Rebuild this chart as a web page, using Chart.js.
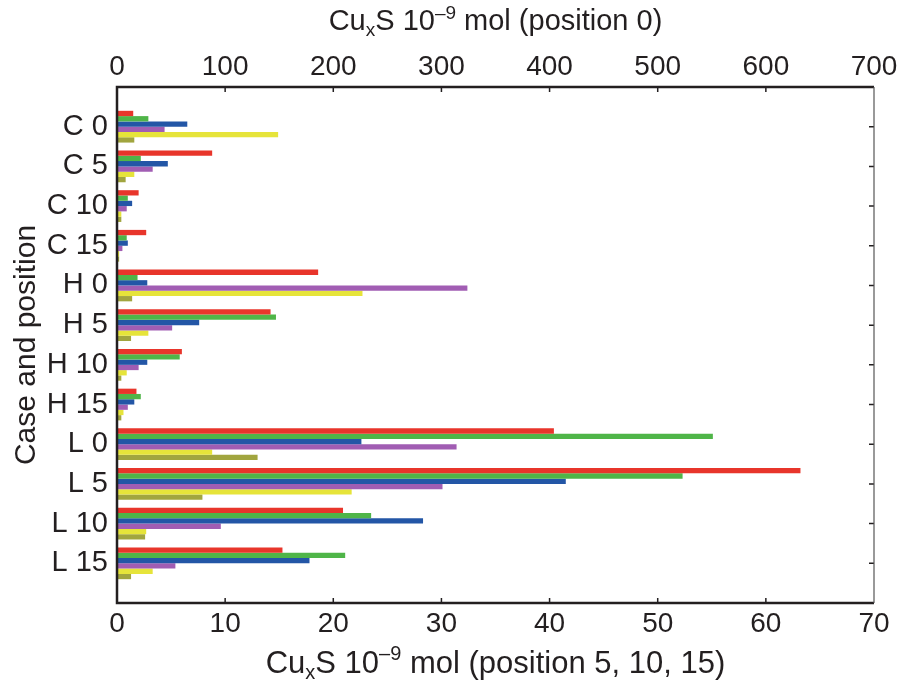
<!DOCTYPE html>
<html>
<head>
<meta charset="utf-8">
<script src="https://cdn.jsdelivr.net/npm/chart.js@4.4.1/dist/chart.umd.min.js"></script>
<style>
    html, body { margin: 0; padding: 0; background: #fff; }
    #wrap { width: 898px; height: 685px; }
</style>
</head>
<body>
<div id="wrap"><canvas id="chart" width="898" height="685"></canvas></div>
<script>
// case + position, top to bottom
let categories = ['C 0', 'C 5', 'C 10', 'C 15', 'H 0', 'H 5', 'H 10', 'H 15', 'L 0', 'L 5', 'L 10', 'L 15'];

// values read on the bottom scale (position 0 rows are x10 on the top scale)
let red    = [1.5, 8.8, 2.0, 2.7, 18.6, 14.2, 6.0, 1.8, 40.4, 63.2, 20.9, 15.3];
let green  = [2.9, 2.2, 1.0, 0.9, 1.9, 14.7, 5.8, 2.2, 55.1, 52.3, 23.5, 21.1];
let blue   = [6.5, 4.7, 1.4, 1.0, 2.8, 7.6, 2.8, 1.6, 22.6, 41.5, 28.3, 17.8];
let purple = [4.4, 3.3, 0.9, 0.5, 32.4, 5.1, 2.0, 1.0, 31.4, 30.1, 9.6, 5.4];
let yellow = [14.9, 1.6, 0.4, 0.2, 22.7, 2.9, 0.9, 0.6, 8.8, 21.7, 2.7, 3.3];
let olive  = [1.6, 0.8, 0.4, 0.2, 1.4, 1.3, 0.4, 0.4, 13.0, 7.9, 2.6, 1.3];

let bottom_ticks = [0, 10, 20, 30, 40, 50, 60, 70];
let top_ticks = [0, 100, 200, 300, 400, 500, 600, 700];

const FONT = "'Liberation Sans', Arial, Helvetica, sans-serif";
const INK = '#231f20';

let series = [
    {data: red, color: '#e8352b'},
    {data: green, color: '#4fb548'},
    {data: blue, color: '#2356a6'},
    {data: purple, color: '#a15db3'},
    {data: yellow, color: '#e6e43a'},
    {data: olive, color: '#a1a53f'}
];

// draw a label with sub/superscript parts, centered at (cx, cy)
function rich_text(ctx, parts, cx, cy, size) {
    let small = Math.round(size * 0.65);
    let w = 0;
    parts.forEach(function (p) {
        ctx.font = `${p.sub || p.sup ? small : size}px ${FONT}`;
        p.w = ctx.measureText(p.t).width;
        w += p.w;
    });
    let x = cx - w / 2;
    ctx.textAlign = 'left';
    ctx.textBaseline = 'middle';
    parts.forEach(function (p) {
        ctx.font = `${p.sub || p.sup ? small : size}px ${FONT}`;
        let dy = p.sub ? size * 0.3 : (p.sup ? -size * 0.3 : 0);
        ctx.fillText(p.t, x, cy + dy);
        x += p.w;
    });
}

let frame_plugin = {
    id: 'frame',
    afterDraw: function (chart) {
        let ctx = chart.ctx;
        let a = chart.chartArea;
        let sx = chart.scales.x, sx2 = chart.scales.x2, sy = chart.scales.y;
        ctx.save();
        ctx.strokeStyle = INK;
        ctx.fillStyle = INK;

        // inward tick marks
        ctx.lineWidth = 1.5;
        ctx.beginPath();
        bottom_ticks.slice(1, -1).forEach(function (v) {
            let px = sx.getPixelForValue(v);
            ctx.moveTo(px, a.bottom);
            ctx.lineTo(px, a.bottom - 5);
        });
        top_ticks.slice(1, -1).forEach(function (v) {
            let px = sx2.getPixelForValue(v);
            ctx.moveTo(px, a.top);
            ctx.lineTo(px, a.top + 5);
        });
        categories.forEach(function (c, i) {
            let py = sy.getPixelForValue(i);
            ctx.moveTo(a.right, py);
            ctx.lineTo(a.right - 5, py);
        });
        ctx.stroke();

        // box: heavy top/left/bottom, light right
        ctx.lineWidth = 2.5;
        ctx.beginPath();
        ctx.moveTo(a.right, a.top);
        ctx.lineTo(a.left, a.top);
        ctx.lineTo(a.left, a.bottom);
        ctx.lineTo(a.right, a.bottom);
        ctx.stroke();
        ctx.lineWidth = 1.2;
        ctx.strokeStyle = '#555';
        ctx.beginPath();
        ctx.moveTo(a.right, a.top);
        ctx.lineTo(a.right, a.bottom);
        ctx.stroke();

        // axis titles
        let cx = (a.left + a.right) / 2;
        rich_text(ctx, [{t: 'Cu'}, {t: 'x', sub: true}, {t: 'S 10'}, {t: '\u20139', sup: true}, {t: ' mol (position 0)'}], cx, 22, 29);
        rich_text(ctx, [{t: 'Cu'}, {t: 'x', sub: true}, {t: 'S 10'}, {t: '\u20139', sup: true}, {t: ' mol (position 5, 10, 15)'}], cx, 664, 31);
        ctx.translate(27, (a.top + a.bottom) / 2);
        ctx.rotate(-Math.PI / 2);
        rich_text(ctx, [{t: 'Case and position'}], 0, 0, 30);
        ctx.restore();
    }
};

let tick_font = {family: FONT, size: 28};

// keep the plot box fixed: 117..874 wide, 87..603 tall
function pin_x(s) {
    s.paddingLeft = 0;
    s.paddingRight = 24;
}

new Chart(document.getElementById('chart').getContext('2d'), {
    type: 'bar',
    data: {
        datasets: series.map(function (s) {
            return {
                data: s.data.map((v, i) => ({x: v, y: i})),
                backgroundColor: s.color,
                borderWidth: 0,
                categoryPercentage: 0.8,
                barPercentage: 1.0,
                xAxisID: 'x',
                yAxisID: 'y'
            };
        })
    },
    options: {
        indexAxis: 'y',
        responsive: false,
        animation: false,
        layout: {padding: 0},
        plugins: {legend: {display: false}, tooltip: {enabled: false}},
        scales: {
            x: {
                type: 'linear', position: 'bottom', min: 0, max: 70,
                ticks: {stepSize: 10, font: tick_font, color: INK, padding: 4, maxRotation: 0},
                grid: {display: false, drawTicks: false},
                border: {display: false},
                afterFit: function (s) { s.height = 82; pin_x(s); }
            },
            x2: {
                type: 'linear', position: 'top', min: 0, max: 700,
                ticks: {stepSize: 100, font: tick_font, color: INK, padding: 3, maxRotation: 0},
                grid: {display: false, drawTicks: false},
                border: {display: false},
                afterFit: function (s) { s.height = 87; pin_x(s); }
            },
            y: {
                type: 'linear', min: -1, max: 12, reverse: true, offset: false,
                ticks: {
                    stepSize: 1, autoSkip: false, color: INK, padding: 9,
                    font: {family: FONT, size: 29},
                    callback: v => categories[v] ?? ''
                },
                grid: {display: false, drawTicks: false},
                border: {display: false},
                afterFit: function (s) { s.width = 117; s.paddingTop = 0; s.paddingBottom = 0; }
            }
        }
    },
    plugins: [frame_plugin]
});
</script>
</body>
</html>
